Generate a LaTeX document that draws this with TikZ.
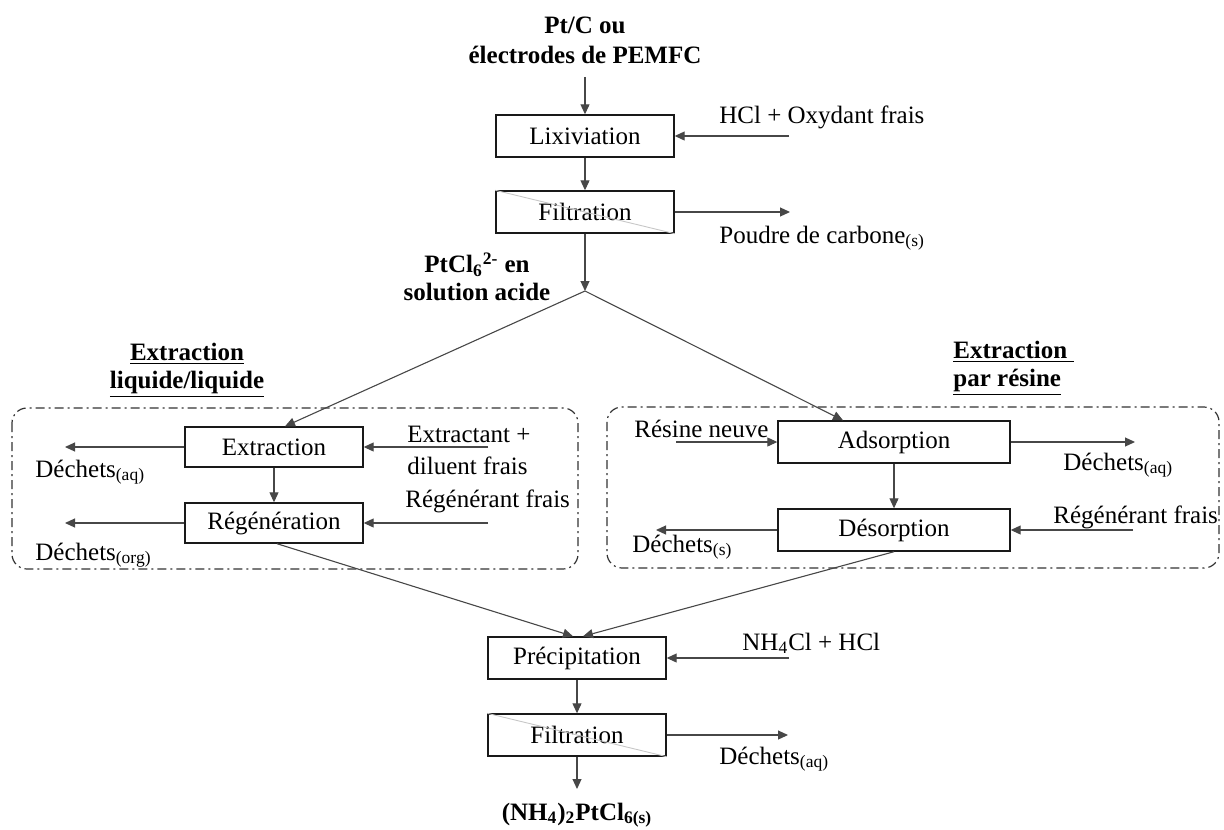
\documentclass[tikz,border=0pt]{standalone}
\usepackage{fontspec}
\setmainfont{Liberation Serif}
\usetikzlibrary{arrows.meta}
\begin{document}
\begin{tikzpicture}[x=0.5pt,y=-0.5pt,
  font=\fontsize{12.5}{15}\selectfont,
  proc/.style={draw=black!90,line width=0.7pt,minimum width=89pt,minimum height=21pt,inner sep=0pt},
  widebox/.style={proc,minimum width=116pt},
  arr/.style={draw=black!72,line width=0.55pt,-{Triangle[length=5pt,width=4.5pt]}},
  grp/.style={draw=black!80,line width=0.6pt,rounded corners=7.5pt,dash pattern=on 4.5pt off 2pt on 1pt off 2pt},
  lbl/.style={inner sep=0pt,anchor=base west},
  boldlbl/.style={inner sep=0pt,font=\fontsize{12.5}{14}\selectfont\bfseries},
  diag/.style={draw=black!22,line width=0.45pt}
]
\useasboundingbox (0,0) rectangle (1224,829);

% group frames
\draw[grp] (12,408) rectangle (578,569);
\draw[grp] (607,407) rectangle (1219,568);

% process boxes
\node[proc] (lix) at (585,136) {Lixiviation};
\node[proc] (filt1) at (585,212) {Filtration};
\node[proc,minimum height=20pt] (ext) at (274,447) {Extraction};
\node[proc,minimum height=20pt] (reg) at (274,523) {Régénération};
\node[widebox] (ads) at (894,442) {Adsorption};
\node[widebox] (des) at (894,530) {Désorption};
\node[proc] (prec) at (577,658) {Précipitation};
\node[proc] (filt2) at (577,735) {Filtration};
\draw[diag] (filt1.north west) -- (filt1.south east);
\draw[diag] (filt2.north west) -- (filt2.south east);

% texts
\node[boldlbl,align=center,font=\fontsize{12.5}{15}\selectfont\bfseries] (title) at (585,40) {Pt/C ou\\électrodes de PEMFC};
\node[lbl] (hcl) at (719,123) {HCl + Oxydant frais};
\node[lbl] (poudre) at (719,243) {Poudre de carbone\textsubscript{(s)}};
\node[boldlbl,align=center] (ptcl) at (477,277) {PtCl\textsubscript{6}\textsuperscript{2-} en\\solution acide};
\node[boldlbl,align=center] (hl) at (187,370) {\underline{Extraction}\\\underline{liquide/liquide}};
\node[boldlbl,align=left,anchor=west] (hr) at (953,368) {\underline{Extraction\ }\\\underline{par résine}};
\node[lbl] (daql) at (35,477) {Déchets\textsubscript{(aq)}};
\node[inner sep=0pt,align=left,anchor=west,font=\fontsize{12.5}{16}\selectfont] (extr) at (407,450) {Extractant +\\diluent frais};
\node[lbl] (regl) at (405,507) {Régénérant frais};
\node[lbl] (dorgl) at (35,560) {Déchets\textsubscript{(org)}};
\node[lbl] (resl) at (634,437) {Résine neuve};
\node[lbl] (daqr) at (1063,470) {Déchets\textsubscript{(aq)}};
\node[lbl] (regr) at (1053,523) {Régénérant frais};
\node[lbl] (dsl) at (632,552) {Déchets\textsubscript{(s)}};
\node[lbl] (nhl) at (742,650) {NH\textsubscript{4}Cl + HCl};
\node[lbl] (daqb) at (719,764) {Déchets\textsubscript{(aq)}};
\node[boldlbl,anchor=base] (prod) at (577,820) {(NH\textsubscript{4})\textsubscript{2}PtCl\textsubscript{6(s)}};

% free ends (same height as the box centre they serve)
\coordinate (t0) at (585,77);
\coordinate (hclS) at (789,136);
\coordinate (poudE) at (790,212);
\coordinate (J) at (585,291);
\coordinate (daqLE) at (65,447);
\coordinate (extIn) at (488,447);
\coordinate (dorgE) at (65,523);
\coordinate (regIn) at (488,523);
\coordinate (resIn) at (676,442);
\coordinate (daqRE) at (1135,442);
\coordinate (dsE) at (656,530);
\coordinate (desIn) at (1133,530);
\coordinate (nhIn) at (789,658);
\coordinate (daqBE) at (788,735);
\coordinate (prodT) at (577,789);

% connectors
\draw[arr] (t0) -- (lix.north);
\draw[arr] (hclS) -- (lix.east);
\draw[arr] (lix) -- (filt1);
\draw[arr] (filt1.east) -- (poudE);
\draw[arr] (filt1.south) -- (J);
\draw[arr] (J) -- ([xshift=5.5pt]ext.north);
\draw[arr] (J) -- ([xshift=-25.5pt]ads.north);
\draw[arr] (ext.west) -- (daqLE);
\draw[arr] (extIn) -- (ext.east);
\draw[arr] (ext) -- (reg);
\draw[arr] (reg.west) -- (dorgE);
\draw[arr] (regIn) -- (reg.east);
\draw[arr] (resIn) -- (ads.west);
\draw[arr] (ads.east) -- (daqRE);
\draw[arr] (ads) -- (des);
\draw[arr] (des.west) -- (dsE);
\draw[arr] (desIn) -- (des.east);
\draw[arr] ([xshift=1.5pt]reg.south) -- ([xshift=-2pt]prec.north);
\draw[arr] (des.south) -- ([xshift=3pt]prec.north);
\draw[arr] (nhIn) -- (prec.east);
\draw[arr] (prec) -- (filt2);
\draw[arr] (filt2.east) -- (daqBE);
\draw[arr] (filt2.south) -- (prodT);
\end{tikzpicture}
\end{document}
